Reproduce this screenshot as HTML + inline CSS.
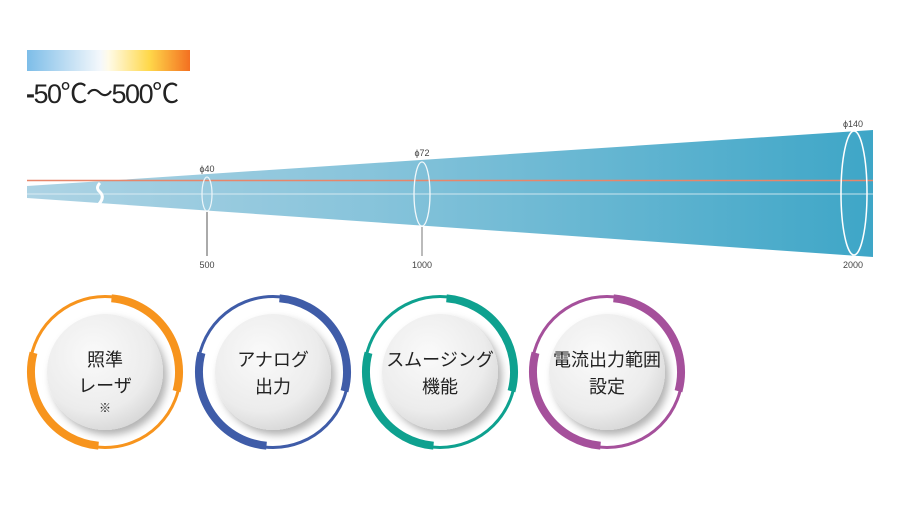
<!DOCTYPE html>
<html><head><meta charset="utf-8"><style>
body{margin:0;width:900px;height:500px;background:#fff;overflow:hidden;font-family:"Liberation Sans","Noto Sans CJK JP",sans-serif}
</style></head><body>
<svg width="900" height="500" viewBox="0 0 900 500" xmlns="http://www.w3.org/2000/svg">
<defs>
<linearGradient id="temp" x1="0" x2="1">
<stop offset="0" stop-color="#7dbde8"/><stop offset="0.45" stop-color="#f4f8fc"/><stop offset="0.5" stop-color="#fffbe8"/><stop offset="0.75" stop-color="#ffd84a"/><stop offset="1" stop-color="#f37021"/>
</linearGradient>
<linearGradient id="beam" x1="0" x2="1">
<stop offset="0" stop-color="#add3e4"/><stop offset="0.4" stop-color="#88c4db"/><stop offset="1" stop-color="#3ea6c7"/>
</linearGradient>
<radialGradient id="disk" cx="0.4" cy="0.35" r="0.7">
<stop offset="0" stop-color="#fafafa"/><stop offset="0.7" stop-color="#ececec"/><stop offset="1" stop-color="#d6d6d6"/>
</radialGradient>
<filter id="sh" x="-30%" y="-30%" width="160%" height="160%"><feDropShadow dx="4" dy="5" stdDeviation="4" flood-color="#000" flood-opacity="0.3"/></filter>
</defs>
<rect x="27" y="50" width="163" height="21" fill="url(#temp)"/>
<text x="26" y="103" font-size="27" fill="#222" letter-spacing="-1.5"><tspan font-weight="bold">-</tspan>50℃～500℃</text>

<polygon points="27,186 873,130 873,257 27,198" fill="url(#beam)"/>
<line x1="27" y1="180.5" x2="873" y2="180.5" stroke="#e8866a" stroke-width="1.5"/>
<line x1="27" y1="194" x2="873" y2="194" stroke="#e6f2f7" stroke-width="1" opacity="0.8"/>
<path d="M100,183 q-5,5 0,9 q5,5 -1,12" stroke="#fff" stroke-width="3" fill="none"/>
<ellipse cx="207" cy="194" rx="5" ry="17" fill="none" stroke="#eef6fa" stroke-width="1.2"/>
<ellipse cx="422" cy="194" rx="8" ry="32" fill="none" stroke="#f2f8fb" stroke-width="1.3"/>
<ellipse cx="854" cy="193" rx="13" ry="62" fill="none" stroke="#fff" stroke-width="1.5"/>
<line x1="207" y1="212" x2="207" y2="256" stroke="#555" stroke-width="1"/>
<line x1="422" y1="227" x2="422" y2="256" stroke="#777" stroke-width="1"/>
<g font-size="9" fill="#444" text-anchor="middle">
<text x="207" y="172">ϕ40</text><text x="422" y="156">ϕ72</text><text x="853" y="127">ϕ140</text>
<text x="207" y="268">500</text><text x="422" y="268">1000</text><text x="853" y="268">2000</text>
</g>

<g id="rings">
<g transform="translate(105,372)">
<circle r="75.5" fill="none" stroke="#f7941d" stroke-width="3"/>
<path d="M6.5,-73.7 A74,74 0 0 1 71.5,19.2" fill="none" stroke="#f7941d" stroke-width="8"/>
<path d="M-6.5,73.7 A74,74 0 0 1 -71.5,-19.2" fill="none" stroke="#f7941d" stroke-width="8"/>
<circle r="58" fill="url(#disk)" filter="url(#sh)"/>
<text y="-6" font-size="18" text-anchor="middle" fill="#222">照準</text>
<text y="20" font-size="18" text-anchor="middle" fill="#222">レーザ</text>
<text y="40" font-size="12" text-anchor="middle" fill="#222">※</text>
</g>
<g transform="translate(273,372)">
<circle r="75.5" fill="none" stroke="#3f5ca8" stroke-width="3"/>
<path d="M6.5,-73.7 A74,74 0 0 1 71.5,19.2" fill="none" stroke="#3f5ca8" stroke-width="8"/>
<path d="M-6.5,73.7 A74,74 0 0 1 -71.5,-19.2" fill="none" stroke="#3f5ca8" stroke-width="8"/>
<circle r="58" fill="url(#disk)" filter="url(#sh)"/>
<text y="-6" font-size="18" text-anchor="middle" fill="#222">アナログ</text>
<text y="21" font-size="18" text-anchor="middle" fill="#222">出力</text>
</g>
<g transform="translate(440,372)">
<circle r="75.5" fill="none" stroke="#0ea18f" stroke-width="3"/>
<path d="M6.5,-73.7 A74,74 0 0 1 71.5,19.2" fill="none" stroke="#0ea18f" stroke-width="8"/>
<path d="M-6.5,73.7 A74,74 0 0 1 -71.5,-19.2" fill="none" stroke="#0ea18f" stroke-width="8"/>
<circle r="58" fill="url(#disk)" filter="url(#sh)"/>
<text y="-6" font-size="18" text-anchor="middle" fill="#222">スムージング</text>
<text y="21" font-size="18" text-anchor="middle" fill="#222">機能</text>
</g>
<g transform="translate(607,372)">
<circle r="75.5" fill="none" stroke="#a5509b" stroke-width="3"/>
<path d="M6.5,-73.7 A74,74 0 0 1 71.5,19.2" fill="none" stroke="#a5509b" stroke-width="8"/>
<path d="M-6.5,73.7 A74,74 0 0 1 -71.5,-19.2" fill="none" stroke="#a5509b" stroke-width="8"/>
<circle r="58" fill="url(#disk)" filter="url(#sh)"/>
<text y="-6" font-size="18" text-anchor="middle" fill="#222">電流出力範囲</text>
<text y="21" font-size="18" text-anchor="middle" fill="#222">設定</text>
</g>
</g>
</svg>
</body></html>
